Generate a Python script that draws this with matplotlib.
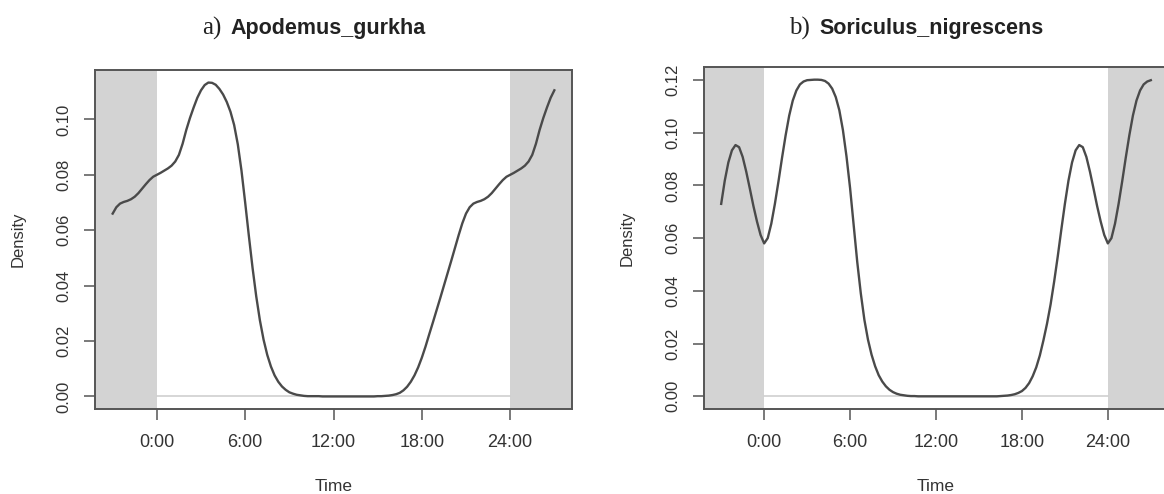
import numpy as np
import matplotlib.pyplot as plt
from matplotlib.offsetbox import AnchoredOffsetbox, HPacker, TextArea

plt.rcParams["font.family"] = ["Liberation Sans", "DejaVu Sans"]

# quarter-hour steps over one day (0:00 .. 23:45); curves are circular
hours = np.arange(0, 24, 0.25)

apodemus_density = [
    0.0800, 0.0807, 0.0815, 0.0823, 0.0833, 0.0848, 0.0872, 0.0912,
    0.0962, 0.1005, 0.1043, 0.1078, 0.1105, 0.1124, 0.1133, 0.1132,
    0.1125, 0.1110, 0.1090, 0.1063, 0.1028, 0.0980, 0.0910, 0.0815,
    0.0700, 0.0580, 0.0465, 0.0362, 0.0275, 0.0205, 0.0150, 0.0108,
    0.0076, 0.0053, 0.0036, 0.0024, 0.0015, 0.0010, 0.0006, 0.0004,
    0.0002, 0.0001, 0.0001, 0.0001, 0.0001, 0.0000, 0.0000, 0.0000,
    0.0000, 0.0000, 0.0000, 0.0000, 0.0000, 0.0000, 0.0000, 0.0000,
    0.0000, 0.0000, 0.0000, 0.0000, 0.0001, 0.0001, 0.0002, 0.0003,
    0.0005, 0.0008, 0.0013, 0.0022, 0.0035, 0.0053, 0.0076, 0.0105,
    0.0140, 0.0180, 0.0224, 0.0267, 0.0311, 0.0355, 0.0400, 0.0445,
    0.0490, 0.0536, 0.0582, 0.0625, 0.0660, 0.0683, 0.0696, 0.0702,
    0.0706, 0.0712, 0.0721, 0.0734, 0.0750, 0.0766, 0.0781, 0.0793,
]

soriculus_density = [
    0.0580, 0.0600, 0.0655, 0.0730, 0.0815, 0.0905, 0.0990, 0.1065,
    0.1122, 0.1160, 0.1183, 0.1194, 0.1199, 0.1200, 0.1201, 0.1201,
    0.1200, 0.1196, 0.1186, 0.1167, 0.1135, 0.1085, 0.1010, 0.0910,
    0.0790, 0.0650, 0.0510, 0.0390, 0.0290, 0.0215, 0.0158, 0.0114,
    0.0080, 0.0056, 0.0038, 0.0025, 0.0016, 0.0010, 0.0006, 0.0004,
    0.0002, 0.0001, 0.0001, 0.0000, 0.0000, 0.0000, 0.0000, 0.0000,
    0.0000, 0.0000, 0.0000, 0.0000, 0.0000, 0.0000, 0.0000, 0.0000,
    0.0000, 0.0000, 0.0000, 0.0000, 0.0000, 0.0000, 0.0000, 0.0000,
    0.0000, 0.0000, 0.0001, 0.0002, 0.0003, 0.0005, 0.0008, 0.0013,
    0.0020, 0.0032, 0.0050, 0.0076, 0.0110, 0.0155, 0.0212, 0.0275,
    0.0348, 0.0435, 0.0530, 0.0632, 0.0730, 0.0818, 0.0887, 0.0933,
    0.0953, 0.0945, 0.0908, 0.0852, 0.0788, 0.0722, 0.0663, 0.0612,
]

xtick_hours = [0, 6, 12, 18, 24]
xtick_labels = ["0:00", "6:00", "12:00", "18:00", "24:00"]

panels = [
    ("a)", "Apodemus_gurkha", apodemus_density,
     [0.0, 0.02, 0.04, 0.06, 0.08, 0.10]),
    ("b)", "Soriculus_nigrescens", soriculus_density,
     [0.0, 0.02, 0.04, 0.06, 0.08, 0.10, 0.12]),
]

W, H = 1164, 494
axes_px = [(95, 70, 572, 409), (704, 67, 1168, 409)]
title_px = [(314, 28), (916, 28)]

SHADE = "#d3d3d3"
LINE = "#4a4a4a"
TEXT = "#333333"


def wrap_day(values, lo=-3.0, hi=27.0):
    # repeat the circular day so the curve runs from -3h to 27h
    vals = np.asarray(values)
    t = np.concatenate([hours - 24, hours, hours + 24, [48.0]])
    d = np.concatenate([vals, vals, vals, vals[:1]])
    keep = (t >= lo - 1e-9) & (t <= hi + 1e-9)
    return t[keep], d[keep]


fig = plt.figure(figsize=(W / 100, H / 100), dpi=100)

for (tag, name, dens, yticks), (x0, y0, x1, y1), (tx, ty) in zip(
        panels, axes_px, title_px):
    ax = fig.add_axes([x0 / W, 1 - y1 / H, (x1 - x0) / W, (y1 - y0) / H])
    t, d = wrap_day(dens)
    ymax = d.max()
    pad = 0.04 * ymax
    ax.axvspan(-10, 0, color=SHADE, lw=0, zorder=0)
    ax.axvspan(24, 40, color=SHADE, lw=0, zorder=0)
    ax.plot([0, 24], [0, 0], color="#d0d0d0", lw=1.2, zorder=1)
    ax.plot(t, d, color=LINE, lw=1.7, zorder=2, solid_joinstyle="round")
    ax.set_xlim(-4.2, 28.2)
    ax.set_ylim(-pad, ymax + pad)

    ax.set_xticks(xtick_hours)
    ax.set_xticklabels(xtick_labels, fontsize=13, color=TEXT)
    ax.set_yticks(yticks)
    ax.set_yticklabels([f"{v:.2f}" for v in yticks], fontsize=12,
                       color=TEXT, rotation=90, va="center")
    ax.tick_params(axis="x", length=8, width=1.1, color="#555555", pad=10)
    ax.tick_params(axis="y", length=8, width=1.1, color="#555555", pad=9)
    for sp in ax.spines.values():
        sp.set_color("#555555")
        sp.set_linewidth(1.4)

    ax.set_xlabel("Time", fontsize=12.5, color=TEXT, labelpad=20)
    ax.set_ylabel("Density", fontsize=12, color=TEXT)
    ax.yaxis.set_label_coords(-69 / (x1 - x0), 0.5)

    title = HPacker(children=[
        TextArea(tag, textprops=dict(family="Liberation Serif", size=18,
                                     color="#222222")),
        TextArea(name, textprops=dict(family="Liberation Sans", size=15.5,
                                      weight="bold", color="#222222")),
    ], align="baseline", pad=0, sep=7)
    box = AnchoredOffsetbox(loc="center", child=title, frameon=False,
                            bbox_to_anchor=(tx / W, 1 - ty / H),
                            bbox_transform=fig.transFigure, borderpad=0)
    fig.add_artist(box)

fig.savefig("out.png", dpi=100)
